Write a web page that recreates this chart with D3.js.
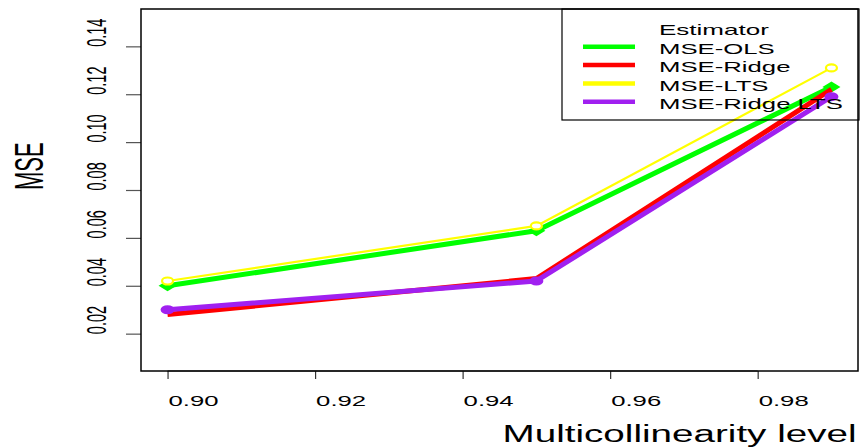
<!DOCTYPE html>
<html>
<head>
<meta charset="utf-8">
<script src="https://cdn.jsdelivr.net/npm/d3@7"></script>
<style>
  html, body { margin: 0; padding: 0; background: #fff; }
  svg { display: block; font-family: 'Liberation Sans', Arial, Helvetica, sans-serif; }
</style>
</head>
<body>
<svg id="chart" width="868" height="448"></svg>
<script>
// values
const levels = [0.90, 0.95, 0.99];
const mseOls = [0.040, 0.063, 0.123];
const mseRidge = [0.028, 0.043, 0.122];
const mseLts = [0.042, 0.065, 0.131];
const mseRidgeLts = [0.030, 0.042, 0.119];
const estimators = ['MSE-OLS', 'MSE-Ridge', 'MSE-LTS', 'MSE-Ridge LTS'];
const estimatorColours = ['#00ff00', '#ff0000', '#ffff00', '#a020f0'];
const xTicks = [0.90, 0.92, 0.94, 0.96, 0.98];
const yTicks = [0.02, 0.04, 0.06, 0.08, 0.10, 0.12, 0.14];
const yLimits = [0.01, 0.15];

const svg = d3.select('#chart');
const box = { left: 141, right: 858, top: 9, bottom: 371 };
const sx = 1.67;   // text in the picture is stretched sideways
const sxRot = 1.9;

// R style 4% padding of the ranges
const pad = ([a, b]) => [a - (b - a) * 0.04, b + (b - a) * 0.04];
const x = d3.scaleLinear().domain(pad(d3.extent(levels))).range([box.left, box.right]);
const y = d3.scaleLinear().domain(pad(yLimits)).range([box.bottom, box.top]);

// axes
const xAxis = svg.append('g')
  .attr('transform', `translate(0,${box.bottom})`)
  .call(d3.axisBottom(x).tickValues(xTicks).tickSize(8).tickSizeOuter(0).tickFormat(d3.format('.2f')));
xAxis.select('.domain').remove();
xAxis.selectAll('line').attr('stroke', '#333').attr('stroke-width', 1.2);
xAxis.selectAll('text')
  .attr('y', null).attr('dy', null)
  .attr('text-anchor', 'start')
  .attr('font-size', 15.4)
  .attr('fill', '#000')
  .attr('transform', `translate(0.5,35) scale(${sx},1)`);
xAxis.append('line')
  .attr('x1', x(xTicks[0])).attr('x2', x(xTicks[xTicks.length - 1]))
  .attr('stroke', '#333').attr('stroke-width', 1.2);

const yAxis = svg.append('g')
  .attr('transform', `translate(${box.left},0)`)
  .call(d3.axisLeft(y).tickValues(yTicks).tickSize(15).tickSizeOuter(0).tickFormat(d3.format('.2f')));
yAxis.select('.domain').remove();
yAxis.selectAll('line').attr('stroke', '#555').attr('stroke-width', 1.2);
yAxis.selectAll('text')
  .attr('x', null).attr('dy', null)
  .attr('text-anchor', 'start')
  .attr('font-size', 14.5)
  .attr('fill', '#000')
  .attr('transform', `translate(-35,0) scale(${sxRot},1) rotate(-90)`);

// plot box
svg.append('rect')
  .attr('x', box.left).attr('y', box.top)
  .attr('width', box.right - box.left).attr('height', box.bottom - box.top)
  .attr('fill', 'none').attr('stroke', '#000').attr('stroke-width', 1.5);

// axis titles (start-anchored at the centre, as in the picture)
svg.append('text')
  .attr('transform', `translate(${(box.left + box.right) / 2 + 3},441.5) scale(1.63,1)`)
  .attr('font-size', 23.7)
  .text('Multicollinearity level');
svg.append('text')
  .attr('transform', `translate(43,${(box.top + box.bottom) / 2}) scale(1.85,1) rotate(-90)`)
  .attr('font-size', 22)
  .text('MSE');

// series
const series = [
  { name: estimators[0], values: mseOls, colour: estimatorColours[0], width: 5, marker: 'diamond' },
  { name: estimators[1], values: mseRidge, colour: estimatorColours[1], width: 5, marker: null },
  { name: estimators[2], values: mseLts, colour: estimatorColours[2], width: 2.2, marker: 'ring' },
  { name: estimators[3], values: mseRidgeLts, colour: estimatorColours[3], width: 5, marker: 'dot' }
];

const line = d3.line()
  .x((d, i) => x(levels[i]))
  .y(d => y(d));

const plot = svg.append('g');
series.forEach(s => {
  const g = plot.append('g');
  g.append('path')
    .attr('d', line(s.values))
    .attr('fill', 'none')
    .attr('stroke', s.colour)
    .attr('stroke-width', s.width)
    .attr('stroke-linejoin', 'round');
  if (s.marker === 'diamond') {
    g.selectAll('path.pt').data(s.values).join('path')
      .attr('class', 'pt')
      .attr('transform', (d, i) => `translate(${x(levels[i])},${y(d)})`)
      .attr('d', 'M-9,0L0,-5.5L9,0L0,5.5Z')
      .attr('fill', s.colour);
  } else if (s.marker === 'dot') {
    g.selectAll('ellipse').data(s.values).join('ellipse')
      .attr('cx', (d, i) => x(levels[i])).attr('cy', d => y(d))
      .attr('rx', 7).attr('ry', 4.5)
      .attr('fill', s.colour);
  } else if (s.marker === 'ring') {
    g.selectAll('ellipse').data(s.values).join('ellipse')
      .attr('cx', (d, i) => x(levels[i])).attr('cy', d => y(d))
      .attr('rx', 5.5).attr('ry', 3.5)
      .attr('fill', '#fff')
      .attr('stroke', s.colour).attr('stroke-width', 2.2);
  }
});

// legend
const legend = svg.append('g');
legend.append('rect')
  .attr('x', 562).attr('y', 9).attr('width', 297).attr('height', 111)
  .attr('fill', 'none').attr('stroke', '#000').attr('stroke-width', 1.2);
legend.append('text')
  .attr('transform', `translate(659,35) scale(1.69,1)`)
  .attr('font-size', 15.4)
  .text('Estimator');
const rows = legend.selectAll('g.row').data(series).join('g')
  .attr('class', 'row')
  .attr('transform', (d, i) => `translate(0,${46.7 + i * 18.35})`);
rows.append('line')
  .attr('x1', 583).attr('x2', 635)
  .attr('stroke', d => d.colour).attr('stroke-width', 4.5);
rows.append('text')
  .attr('transform', `translate(659,7.3) scale(${sx},1)`)
  .attr('font-size', 15.4)
  .text(d => d.name);
</script>
</body>
</html>
